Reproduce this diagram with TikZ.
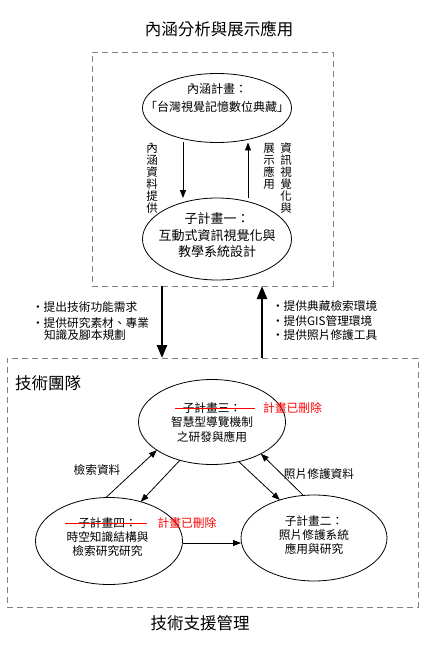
\documentclass[tikz,border=0pt]{standalone}
\usepackage{fontspec}
\setmainfont{Noto Sans CJK TC}
\usetikzlibrary{shapes.geometric,arrows.meta}
\definecolor{dashgray}{HTML}{808080}
\begin{document}
\begin{tikzpicture}[x=1pt,y=-1pt,
  every node/.style={inner sep=0pt, outer sep=0pt},
  oval/.style={draw, ellipse, line width=0.8pt},
  frame/.style={draw=dashgray, dash pattern=on 6pt off 4pt, line width=0.9pt},
  thinarrow/.style={line width=0.8pt, -{Triangle[length=8pt,width=6pt]}},
  bigarrow/.style={line width=2.6pt, -{Triangle[length=13pt,width=10pt]}},
  bigtext/.style={font=\fontsize{16.5}{18}\selectfont},
  txt/.style={font=\fontsize{11.7}{14}\selectfont, align=center},
  bullet/.style={font=\fontsize{11.7}{14}\selectfont, anchor=west},
  vtext/.style={font=\fontsize{11.5}{12}\selectfont, align=center},
  strike/.style={draw=red, line width=0.9pt},
  deleted/.style={text=red, font=\fontsize{11.8}{14}\selectfont}
]
\useasboundingbox (0,0) rectangle (425,647);

% frames
\node[frame, minimum width=241pt, minimum height=234pt] (top) at (212.5,169) {};
\node[frame, minimum width=411pt, minimum height=249pt] (team) at (212.5,482.5) {};

% titles
\node[bigtext] (title1) at (219,29) {內涵分析與展示應用};
\node[bigtext, anchor=west] (title2) at (15,383) {技術團隊};
\node[bigtext] (title3) at (200,623) {技術支援管理};

% top ellipses
\node[oval, minimum width=149pt, minimum height=69pt] (a1) at (217,108) {};
\node[txt, font=\fontsize{12}{18}\selectfont] (a1t) at (217,98) {內涵計畫：\\「台灣視覺記憶數位典藏」};
\node[oval, minimum width=149pt, minimum height=82pt] (b1) at (217,239) {};
\node[txt, font=\fontsize{13}{16.5}\selectfont] (b1t) at (217,235.5) {子計畫一：\\互動式資訊視覺化與\\教學系統設計};

\draw[thinarrow] ([xshift=-34pt]a1.south) -- ([xshift=-34pt]b1.north);
\draw[thinarrow] ([xshift=31pt]b1.north) -- ([xshift=31pt]a1.south);

\node[vtext] (v1) at (152,178) {內\\涵\\資\\料\\提\\供};
\node[vtext] (v2) at (269,166) {展\\示\\應\\用};
\node[vtext] (v3) at (286,178) {資\\訊\\視\\覺\\化\\與};

% big arrows
\draw[bigarrow] ([xshift=-50.5pt]top.south) -- ([xshift=-50.5pt]team.north);
\draw[bigarrow] ([xshift=49.5pt]team.north) -- ([xshift=49.5pt]top.south);

\node[bullet] (req1) at (32,307) {・提出技術功能需求};
\node[bullet] (req2) at (32,323) {・提供研究素材、專業};
\node[bullet] (req3) at (44,335.5) {知識及腳本規劃};
\node[bullet] (prov1) at (272,306) {・提供典藏檢索環境};
\node[bullet] (prov2) at (272,321) {・提供GIS管理環境};
\node[bullet] (prov3) at (272,335) {・提供照片修護工具};

% bottom ellipses
\node[oval, minimum width=147pt, minimum height=85pt] (c3) at (212,422) {};
\node[txt, font=\fontsize{11.7}{14.5}\selectfont] (c3t) at (212,422.5) {子計畫三：\\智慧型導覽機制\\之研發與應用};
\draw[strike] (175,408) -- (255,408);
\node[deleted] (c3d) at (292.5,408) {計畫已刪除};

\node[oval, minimum width=147pt, minimum height=87pt] (c4) at (109,541) {};
\node[txt, font=\fontsize{11.7}{14}\selectfont] (c4t) at (107.5,537) {子計畫四：\\時空知識結構與\\檢索研究研究};
\draw[strike] (65,523) -- (147,523);
\node[deleted] (c4d) at (187,523) {計畫已刪除};

\node[oval, minimum width=146pt, minimum height=86pt] (c2) at (314,538) {};
\node[txt, font=\fontsize{11.7}{14}\selectfont] (c2t) at (314,535) {子計畫二：\\照片修護系統\\應用與研究};

% connectors
\draw[thinarrow] (c4.94) -- (c3.207);
\draw[thinarrow] (c3.230.5) -- (c4.51.7);
\draw[thinarrow] (c3.304.6) -- (c2.132.8);
\draw[thinarrow] (c2.104) -- (c3.327.1);
\draw[thinarrow] ([yshift=-2pt]c4.east) -- ([yshift=-2pt]c4.east -| c2.west);

\node[txt] (l1) at (97,470) {檢索資料};
\node[txt] (l2) at (319,474) {照片修護資料};
\end{tikzpicture}
\end{document}
